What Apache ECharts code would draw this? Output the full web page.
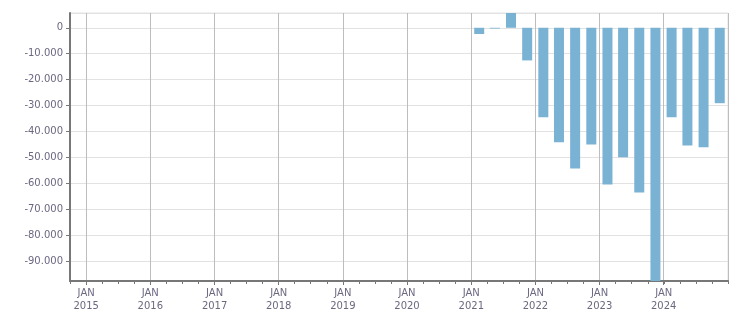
<!DOCTYPE html>
<html>
<head>
<meta charset="utf-8">
<script src="https://cdn.jsdelivr.net/npm/echarts@6/dist/echarts.min.js"></script>
<style>html,body{margin:0;padding:0;background:#fff}#c{width:751px;height:313px}</style>
</head>
<body>
<div id="c"></div>
<script>
// Quarter mid-points (bars centered mid-quarter)
const quarters = ['2021-02-15','2021-05-15','2021-08-15','2021-11-15',
                  '2022-02-15','2022-05-15','2022-08-15','2022-11-15',
                  '2023-02-15','2023-05-15','2023-08-15','2023-11-15',
                  '2024-02-15','2024-05-15','2024-08-15','2024-11-15'];
const values = [-2400, -300, 5700, -12600,
                -34500, -44200, -54300, -45000,
                -60500, -50000, -63600, -97700,
                -34500, -45400, -46100, -29100];
const xStart = '2014-10-01';
const xEnd = '2025-01-01';
const yMin = -97700;
const yMax = 5700;

const labelColor = '#6b6880';
const fmtNum = v => {
  const s = Math.abs(v).toString().replace(/\B(?=(\d{3})+(?!\d))/g, '.');
  return (v < 0 ? '-' : '') + s;
};

const chart = echarts.init(document.getElementById('c'));
chart.setOption({
  animation: false,
  grid: {left: 70, right: 23, top: 13, bottom: 32, show: true, borderColor: '#e2e2e2', borderWidth: 1, outerBoundsMode: 'none'},
  xAxis: [{
    type: 'time',
    min: xStart, max: xEnd,
    minInterval: 365 * 24 * 3600 * 1000,
    maxInterval: 366 * 24 * 3600 * 1000,
    axisLine: {onZero: false, lineStyle: {color: '#777', width: 2}},
    axisTick: {show: true, length: 4, lineStyle: {color: '#777'}},
    splitLine: {show: true, lineStyle: {color: '#bdbdbd', width: 1}},
    axisLabel: {
      color: labelColor, fontFamily: 'DejaVu Sans', fontSize: 10, lineHeight: 13,
      margin: 6, showMinLabel: false, showMaxLabel: false,
      formatter: v => 'JAN\n' + new Date(v).getFullYear()
    }
  }, {
    // quarter ticks: months since Oct 2014
    type: 'value', position: 'bottom', min: 0, max: 123, interval: 3,
    axisLine: {show: false, onZero: false},
    axisTick: {show: true, length: 3, lineStyle: {color: '#777'}},
    splitLine: {show: false},
    axisLabel: {show: false}
  }],
  yAxis: {
    type: 'value',
    min: yMin, max: yMax,
    splitNumber: 10,
    axisLine: {show: true, lineStyle: {color: '#777', width: 2}},
    axisTick: {show: true, length: 4, lineStyle: {color: '#777'}},
    splitLine: {show: true, lineStyle: {color: '#e2e2e2', width: 1}},
    axisLabel: {
      color: labelColor, fontFamily: 'DejaVu Sans', fontSize: 10, margin: 7,
      showMinLabel: false, showMaxLabel: false,
      formatter: v => (v % 10000 === 0 ? fmtNum(v) : '')
    }
  },
  series: [{
    type: 'custom',
    xAxisIndex: 0,
    encode: {x: 0, y: 1},
    data: quarters.map((q, i) => [q, values[i]]),
    renderItem: (params, api) => {
      const p = api.coord([api.value(0), api.value(1)]);
      const z = api.coord([api.value(0), 0]);
      const w = 10;
      const y0 = Math.min(p[1], z[1]);
      const h = Math.abs(p[1] - z[1]);
      return {
        type: 'rect',
        shape: {x: p[0] - w / 2, y: y0, width: w, height: h},
        style: {fill: '#7ab2d4'}
      };
    }
  }]
});
</script>
</body>
</html>
